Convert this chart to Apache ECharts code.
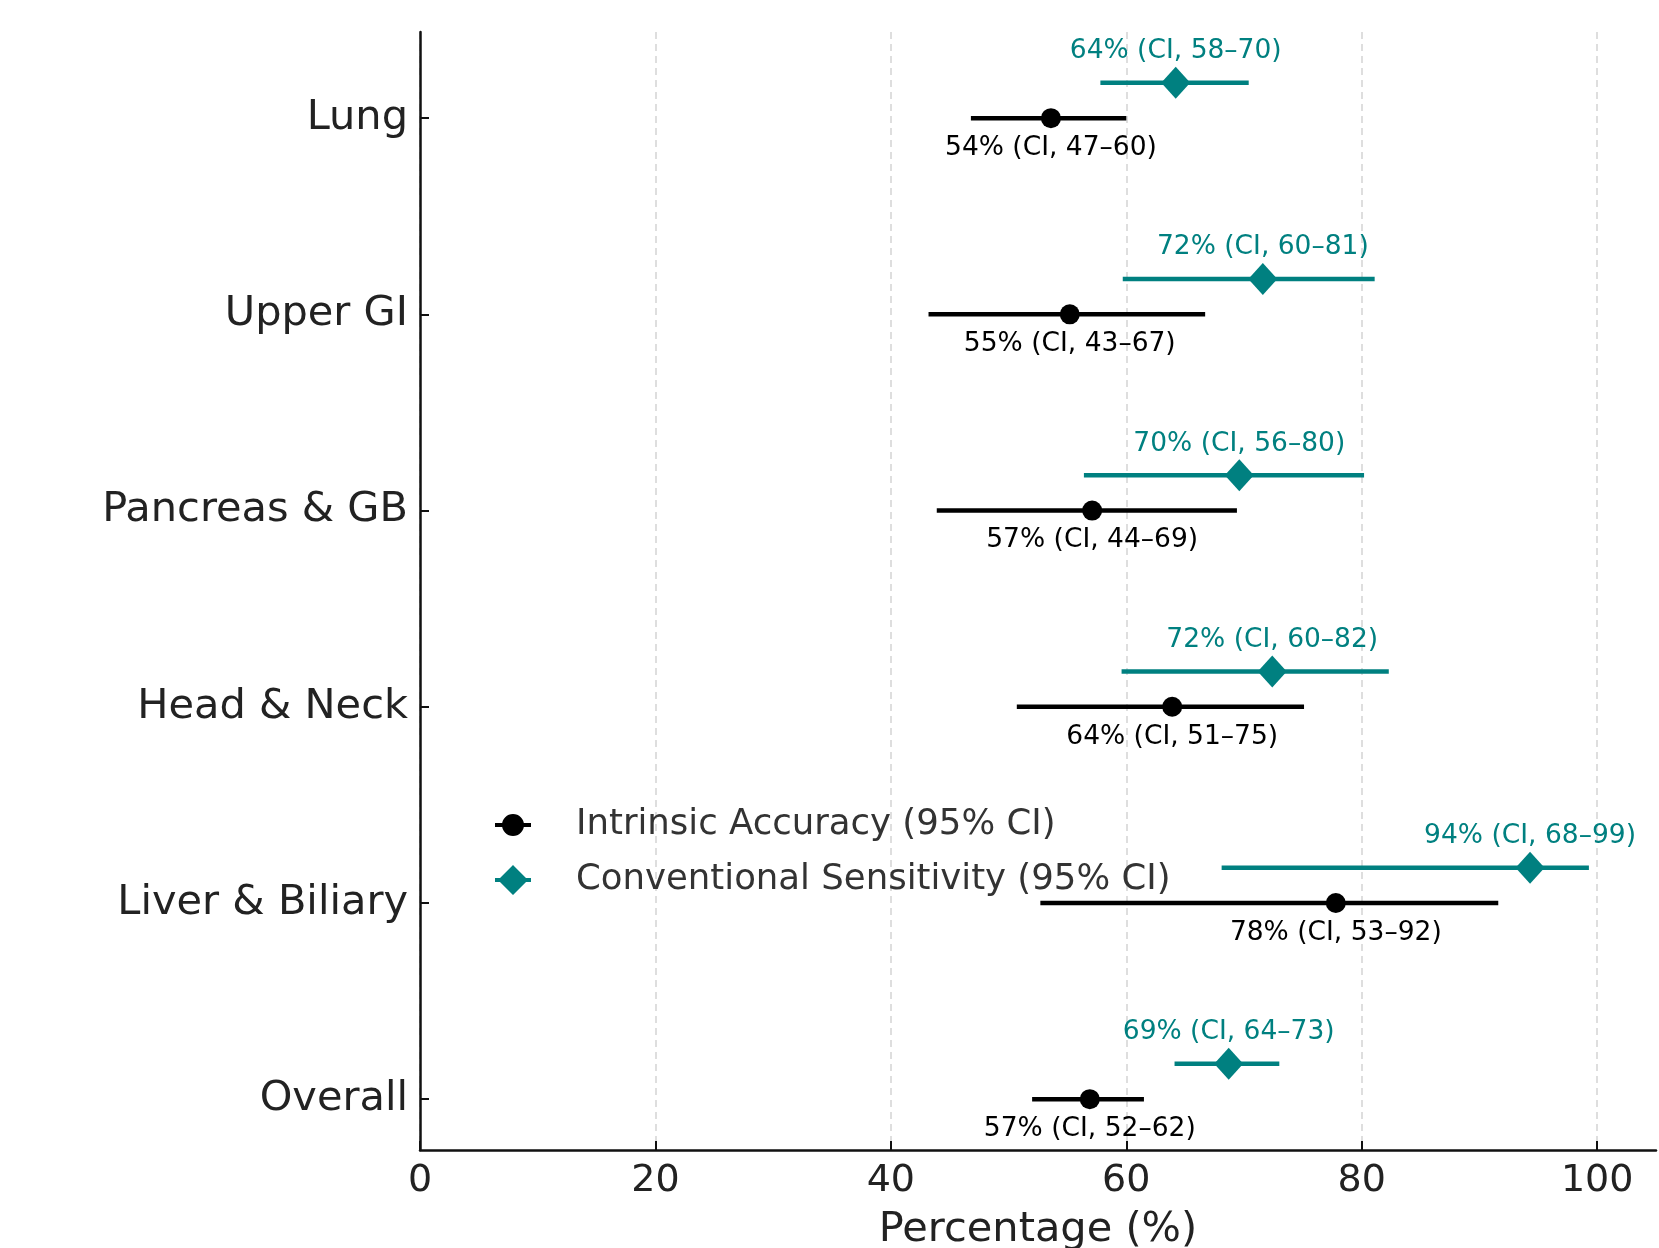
<!DOCTYPE html>
<html>
<head>
<meta charset="utf-8">
<script src="https://cdn.jsdelivr.net/npm/echarts@6/dist/echarts.min.js"></script>
<style>
html, body { margin: 0; padding: 0; background: #fff; }
#forest-chart { width: 1659px; height: 1248px; }
</style>
</head>
<body>
<div id="forest-chart"></div>
<script>
// rows, top to bottom
const categories = ["Lung", "Upper GI", "Pancreas & GB", "Head & Neck", "Liver & Biliary", "Overall"];

// intrinsic accuracy (point, 95% CI)
const intrinsicValue = [53.6, 55.2, 57.1, 63.9, 77.8, 56.9];
const intrinsicLow = [46.8, 43.2, 43.9, 50.7, 52.7, 52.0];
const intrinsicHigh = [60.0, 66.7, 69.4, 75.1, 91.6, 61.5];

// conventional sensitivity (point, 95% CI)
const conventionalValue = [64.2, 71.6, 69.6, 72.4, 94.3, 68.7];
const conventionalLow = [57.8, 59.7, 56.4, 59.6, 68.1, 64.1];
const conventionalHigh = [70.4, 81.1, 80.2, 82.3, 99.3, 73.0];

const xTicks = [0, 20, 40, 60, 80, 100];

const BLACK = "#000000";
const TEAL = "#008080";
const FONT = '"DejaVu Sans", sans-serif';
const OFFSET = 0.18; // teal row sits a little above the category line

const n = categories.length;
const rowPos = categories.map((c, i) => n - 1 - i);

const ciLabel = (v, lo, hi) =>
  Math.round(v) + "% (CI, " + Math.round(lo) + "\u2013" + Math.round(hi) + ")";

const intrinsicLabels = categories.map((c, i) => ciLabel(intrinsicValue[i], intrinsicLow[i], intrinsicHigh[i]));
const conventionalLabels = categories.map((c, i) => ciLabel(conventionalValue[i], conventionalLow[i], conventionalHigh[i]));

// [low, high, y, point]
const intrinsicBars = categories.map((c, i) => [intrinsicLow[i], intrinsicHigh[i], rowPos[i], intrinsicValue[i]]);
const conventionalBars = categories.map((c, i) => [conventionalLow[i], conventionalHigh[i], rowPos[i] + OFFSET, conventionalValue[i]]);

const intrinsicPoints = categories.map((c, i) => [intrinsicValue[i], rowPos[i]]);
const conventionalPoints = categories.map((c, i) => [conventionalValue[i], rowPos[i] + OFFSET]);

let errorBar = (color, labels, textShift) => {
  return function (params, api) {
    const y = api.value(2);
    const lo = api.coord([api.value(0), y]);
    const hi = api.coord([api.value(1), y]);
    const mid = api.coord([api.value(3), y]);
    return {
      type: "group",
      children: [
        {
          type: "line",
          shape: { x1: lo[0], y1: lo[1], x2: hi[0], y2: hi[1] },
          style: { stroke: color, lineWidth: 4.5 },
        },
        {
          type: "text",
          x: mid[0],
          y: mid[1] + textShift,
          style: {
            text: labels[params.dataIndex],
            fill: color,
            font: "26.5px " + FONT,
            align: "center",
            verticalAlign: "middle",
          },
        },
      ],
    };
  };
};

let initChart = () => {
  let chart = echarts.init(document.getElementById("forest-chart"));

  var option = {
    animation: false,
    textStyle: { fontFamily: FONT },
    grid: {
      left: 420,
      right: 3,
      top: 32,
      bottom: 98,
      containLabel: false,
      outerBoundsMode: "none",
    },
    legend: {
      orient: "vertical",
      left: 490,
      top: 802,
      itemWidth: 36,
      itemHeight: 30,
      itemGap: 19,
      selectedMode: false,
      textStyle: {
        fontSize: 35.5,
        color: "#333333",
        fontFamily: FONT,
        padding: [0, 0, 0, 40],
      },
      data: [
        {
          name: "Intrinsic Accuracy (95% CI)",
          icon: "path://M0,9h36v4h-36z M7,11a11,11 0 1,1 22,0a11,11 0 1,1 -22,0z",
          itemStyle: { color: BLACK },
        },
        {
          name: "Conventional Sensitivity (95% CI)",
          icon: "path://M0,13h36v4h-36z M18,0L33,15L18,30L3,15z",
          itemStyle: { color: TEAL },
        },
      ],
    },
    xAxis: {
      type: "value",
      min: 0,
      max: 105,
      interval: 20,
      name: "Percentage (%)",
      nameLocation: "middle",
      nameGap: 59,
      nameTextStyle: { fontSize: 41.5, color: "#222222", fontFamily: FONT },
      axisLine: { show: true, onZero: false, lineStyle: { color: "#111111", width: 2.5 } },
      axisTick: {
        show: true,
        inside: true,
        length: 9,
        customValues: xTicks,
        lineStyle: { color: "#111111", width: 2 },
      },
      axisLabel: {
        customValues: xTicks,
        fontSize: 38,
        color: "#222222",
        margin: 12,
        fontFamily: FONT,
      },
      splitLine: {
        show: true,
        lineStyle: { color: "#d4d4d4", width: 1.5, type: [7, 5] },
      },
    },
    yAxis: {
      type: "value",
      min: -0.259,
      max: 5.439,
      axisLine: { show: true, onZero: false, lineStyle: { color: "#111111", width: 2.5 } },
      axisTick: {
        show: true,
        inside: true,
        length: 9,
        customValues: rowPos,
        lineStyle: { color: "#111111", width: 2 },
      },
      axisLabel: {
        customValues: rowPos,
        fontSize: 41.5,
        color: "#222222",
        margin: 12,
        padding: [14, 0, 0, 0],
        fontFamily: FONT,
        formatter: (v) => categories[n - 1 - Math.round(v)],
      },
      splitLine: { show: false },
    },
    series: [
      {
        name: "Intrinsic Accuracy (95% CI)",
        type: "custom",
        renderItem: errorBar(BLACK, intrinsicLabels, 30),
        data: intrinsicBars,
        z: 2,
      },
      {
        name: "Conventional Sensitivity (95% CI)",
        type: "custom",
        renderItem: errorBar(TEAL, conventionalLabels, -31.5),
        data: conventionalBars,
        z: 2,
      },
      {
        name: "Intrinsic Accuracy (95% CI)",
        type: "scatter",
        symbol: "circle",
        symbolSize: 20,
        itemStyle: { color: BLACK, opacity: 1 },
        data: intrinsicPoints,
        z: 5,
      },
      {
        name: "Conventional Sensitivity (95% CI)",
        type: "scatter",
        symbol: "diamond",
        symbolSize: [29, 32],
        itemStyle: { color: TEAL, opacity: 1 },
        data: conventionalPoints,
        z: 5,
      },
    ],
  };

  chart.setOption(option);
  window.onresize = function () {
    chart.resize();
  };
};

initChart();
</script>
</body>
</html>
